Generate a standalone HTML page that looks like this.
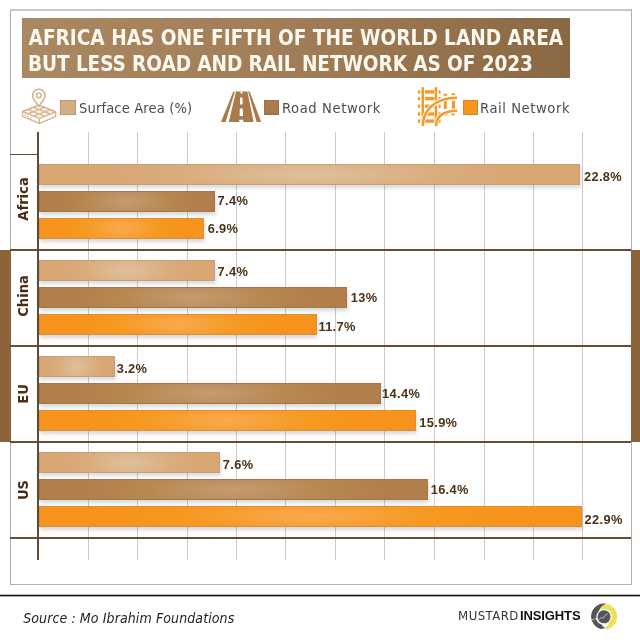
<!DOCTYPE html>
<html><head><meta charset="utf-8"><style>
*{margin:0;padding:0;box-sizing:border-box}
html,body{width:640px;height:640px;overflow:hidden;background:#fff}
body{position:relative;font-family:"Liberation Sans",Arial,sans-serif}
#frame{position:absolute;left:10px;top:9px;width:622px;height:576px;border:1px solid #b4aea7;border-top:2px solid #cdc6be}
.band{position:absolute;top:250px;height:192px;width:10.5px;background:#8c6239}
#title{position:absolute;left:22px;top:18px;width:548px;height:60px;background:linear-gradient(90deg,#aa8862 0%,#a07d57 50%,#8a6843 100%)}
#title div{position:absolute;left:6px;color:#fdf8ee;font-family:"DejaVu Sans Condensed","Liberation Sans",sans-serif;font-weight:bold;font-size:20.6px;letter-spacing:0px;white-space:nowrap;line-height:1}
.sw{position:absolute;top:100px;width:15px;height:15px;box-shadow:inset 0 0 0 1px rgba(90,70,50,0.18)}
.lt{position:absolute;top:98px;font-family:"DejaVu Sans Condensed","Liberation Sans",sans-serif;font-size:14.6px;color:#4b4b4b;white-space:nowrap;line-height:20px}
.gl{position:absolute;top:131.5px;height:428px;width:1px;background:#cbcbcf}
.sep{position:absolute;left:10px;width:621px;height:2px;background:#684d35}
#axis{position:absolute;left:37px;top:131.5px;width:2px;height:428px;background:#624b35}
.bar{position:absolute;left:39px;height:21px;box-shadow:1px 3px 4px rgba(70,66,70,0.2)}
.bar.s{background:radial-gradient(ellipse 40% 140% at 50% 50%,#dfc09d 0%,#dbad7d 60%,#d7a673 100%);border:1px solid #c6a07a}
.bar.r{background:radial-gradient(ellipse 40% 140% at 50% 50%,#c49c74 0%,#b7884f 60%,#b27f4c 100%);border:1px solid #a07750}
.bar.o{background:radial-gradient(ellipse 40% 140% at 50% 50%,#f9aa50 0%,#f7981f 60%,#f6931c 100%);border:1px solid #dc8f38}
.val{position:absolute;height:21px;line-height:21px;font-size:12.8px;font-weight:bold;color:#4a3219;white-space:nowrap;letter-spacing:0.35px}
.cl{position:absolute;left:23.3px;transform:translate(-50%,-50%) rotate(-90deg);line-height:1;font-family:"DejaVu Sans Condensed","Liberation Sans",sans-serif;font-size:14.6px;font-weight:bold;color:#4a2d12;white-space:nowrap}
#foot{position:absolute;left:0;top:594px;width:640px;height:3px;background:linear-gradient(#b8b8b8 0,#b8b8b8 1px,#161616 1px,#161616 2px,#a8a8a8 2px)}
#src{position:absolute;left:23.2px;top:608.6px;font-family:"DejaVu Sans Condensed","Liberation Sans",sans-serif;font-style:italic;font-size:14px;color:#222;white-space:nowrap;line-height:18px;letter-spacing:0.1px}
#brand{position:absolute;left:458.1px;top:607.4px;font-family:"DejaVu Sans Condensed","Liberation Sans",sans-serif;font-size:13px;color:#333;white-space:nowrap;line-height:18px;letter-spacing:0.48px}
#brand2{position:absolute;left:520px;top:607.4px;font-size:13px;font-weight:bold;color:#111;white-space:nowrap;line-height:18px;letter-spacing:-0.12px}
#ov{position:absolute;left:0;top:0}
</style></head><body>
<div id="frame"></div>
<div class="band" style="left:0"></div>
<div class="band" style="left:631px;width:9px"></div>
<div id="title"><div style="top:9.9px;left:6.6px">AFRICA HAS ONE FIFTH OF THE WORLD LAND AREA</div><div style="top:35.9px;letter-spacing:-0.09px">BUT LESS ROAD AND RAIL NETWORK AS OF 2023</div></div>
<div class="sw" style="left:60px;width:16px;background:#d4ac81"></div>
<div class="lt" style="left:79px;letter-spacing:0.13px">Surface Area (%)</div>
<div class="sw" style="left:264px;width:14.5px;background:#a97b4c"></div>
<div class="lt" style="left:282px;letter-spacing:0.6px">Road Network</div>
<div class="sw" style="left:462.5px;background:#f7941d"></div>
<div class="lt" style="left:480px;letter-spacing:0.58px">Rail Network</div>
<div class="gl" style="left:88.00px"></div><div class="gl" style="left:137.00px"></div><div class="gl" style="left:187.00px"></div><div class="gl" style="left:235.50px"></div><div class="gl" style="left:285.00px"></div><div class="gl" style="left:334.50px"></div><div class="gl" style="left:384.00px"></div><div class="gl" style="left:433.70px"></div><div class="gl" style="left:483.50px"></div><div class="gl" style="left:532.50px"></div><div class="gl" style="left:582.00px"></div>
<div class="sep" style="top:153.5px;width:28px;height:1.5px"></div>
<div class="sep" style="top:249px"></div><div class="sep" style="top:345px"></div><div class="sep" style="top:441px"></div><div class="sep" style="top:537px"></div>
<div id="axis"></div>
<div class="bar s" style="top:164px;width:540.8px"></div><div class="val" style="top:165.5px;left:584.0px">22.8%</div><div class="bar r" style="top:191px;width:175.7px"></div><div class="val" style="top:190.1px;left:217.6px">7.4%</div><div class="bar o" style="top:218px;width:164.7px"></div><div class="val" style="top:217.8px;left:207.7px">6.9%</div><div class="bar s" style="top:260px;width:175.7px"></div><div class="val" style="top:261.0px;left:217.6px">7.4%</div><div class="bar r" style="top:287px;width:308.1px"></div><div class="val" style="top:286.9px;left:350.8px">13%</div><div class="bar o" style="top:314px;width:277.5px"></div><div class="val" style="top:316.3px;left:318.4px">11.7%</div><div class="bar s" style="top:356px;width:76px"></div><div class="val" style="top:357.8px;left:116.7px">3.2%</div><div class="bar r" style="top:383px;width:341.6px"></div><div class="val" style="top:383.4px;left:382.1px">14.4%</div><div class="bar o" style="top:410px;width:376.8px"></div><div class="val" style="top:411.5px;left:419.3px">15.9%</div><div class="bar s" style="top:452px;width:180.7px"></div><div class="val" style="top:454.2px;left:222.8px">7.6%</div><div class="bar r" style="top:479px;width:389px"></div><div class="val" style="top:479.3px;left:430.7px">16.4%</div><div class="bar o" style="top:506px;width:543.2px"></div><div class="val" style="top:508.6px;left:584.6px">22.9%</div>
<div class="cl" style="top:198.5px">Africa</div><div class="cl" style="top:295.75px">China</div><div class="cl" style="top:394.25px">EU</div><div class="cl" style="top:489.6px">US</div>
<div id="foot"></div>
<div id="src">Source : Mo Ibrahim Foundations</div>
<div id="brand">MUSTARD</div><div id="brand2">INSIGHTS</div>
<svg id="ov" width="640" height="640" viewBox="0 0 640 640">

<g fill="none" stroke="#d3b28b" stroke-width="1.3" stroke-linejoin="round">
<polygon points="22.5,111.6 38.75,105.0 55.6,111.9 55.6,116.7 39.35,123.3 22.5,116.39999999999999" fill="#fff"/>
<polygon points="22.5,111.6 38.75,105.0 55.6,111.9 39.35,118.5" fill="#d8b995"/>
<line x1="39.35" y1="118.5" x2="39.35" y2="123.3"/>
<line x1="24.7" y1="114.8" x2="33.35" y2="119.10000000000001" stroke-dasharray="1.4 1.8"/>
</g>
<g fill="#fdf6ec" stroke="none"><polygon points="38.79,105.81 42.38,107.28 38.91,108.69 35.32,107.22"/><polygon points="33.37,108.01 36.96,109.48 33.50,110.89 29.90,109.42"/><polygon points="27.95,110.21 31.55,111.68 28.08,113.09 24.49,111.62"/><polygon points="44.40,108.11 48.00,109.58 44.53,110.99 40.94,109.52"/><polygon points="38.99,110.31 42.58,111.78 39.11,113.19 35.52,111.72"/><polygon points="33.57,112.51 37.16,113.98 33.70,115.39 30.10,113.92"/><polygon points="50.02,110.41 53.61,111.88 50.15,113.29 46.55,111.82"/><polygon points="44.60,112.61 48.20,114.08 44.73,115.49 41.14,114.02"/><polygon points="39.19,114.81 42.78,116.28 39.31,117.69 35.72,116.22"/></g>
<path d="M38.8,106.3 C36.5,102.5 32.6,99.6 32.6,95.4 A6.2,6.2 0 0 1 45.0,95.4 C45.0,99.6 41.1,102.5 38.8,106.3 Z" fill="#fff" stroke="#d0ae86" stroke-width="1.5" stroke-linejoin="round"/>
<circle cx="38.8" cy="95.3" r="2.4" fill="none" stroke="#d0ae86" stroke-width="1.4"/>


<g fill="#a97a4b">
<polygon points="236,91.4 247.4,91.4 253.7,122 228.8,122"/>
<polygon points="233.3,91.4 234.9,91.4 225.6,122 221,122"/>
<polygon points="248.1,91.4 249.7,91.4 261.2,122 256.6,122"/>
</g>
<g fill="#fff">
<polygon points="240.6,91.4 242.4,91.4 242.5,93.4 240.5,93.4"/>
<polygon points="240.1,97.6 242.5,97.6 242.6,104.5 240,104.5"/>
<polygon points="239.8,108.5 242.8,108.5 243,116 239.6,116"/>
<polygon points="239.3,119.8 243.3,119.8 243.4,122.2 239.2,122.2"/>
</g>

<g fill="#f39a2a"><rect x="425.0" y="90.2" width="9.2" height="3.4"/><rect x="417.9" y="90.2" width="2.2" height="3.4"/><rect x="438.6" y="90.2" width="2" height="3.4"/><rect x="425.0" y="96.89999999999999" width="9.2" height="3.4"/><rect x="417.9" y="96.89999999999999" width="2.2" height="3.4"/><rect x="438.6" y="96.89999999999999" width="2" height="3.4"/><rect x="425.0" y="104.6" width="9.2" height="3.4"/><rect x="417.9" y="104.6" width="2.2" height="3.4"/><rect x="438.6" y="104.6" width="2" height="3.4"/><rect x="425.0" y="112.3" width="9.2" height="3.4"/><rect x="417.9" y="112.3" width="2.2" height="3.4"/><rect x="438.6" y="112.3" width="2" height="3.4"/><rect x="425.0" y="119.39999999999999" width="9.2" height="3.4"/><rect x="417.9" y="119.39999999999999" width="2.2" height="3.4"/><rect x="438.6" y="119.39999999999999" width="2" height="3.4"/><rect x="421.5" y="87.2" width="2.6" height="38.6"/><rect x="434.6" y="87.2" width="2.6" height="38.6"/><rect x="443.6" y="93.8" width="3.6" height="2"/><rect x="451.6" y="93.3" width="3.6" height="2"/><rect x="443.8" y="100.8" width="3" height="8.2"/><rect x="452" y="100.8" width="3" height="8.2"/><rect x="444" y="113.6" width="3.4" height="2"/><rect x="451.4" y="113.4" width="3.4" height="2"/></g><g fill="none" stroke-linecap="butt">
<path d="M422.8,126 C422.8,110 435,98 457,97.7" stroke="#fff" stroke-width="4.2"/>
<path d="M422.8,126 C422.8,110 435,98 457,97.7" stroke="#f39a2a" stroke-width="2.6"/>
<path d="M436,126 C436,117 443,110.7 457,110.7" stroke="#fff" stroke-width="4.2"/>
<path d="M436,126 C436,117 443,110.7 457,110.7" stroke="#f39a2a" stroke-width="2.6"/>
</g>

<g>
<path d="M598.29,609.04 L598.85,608.23 L599.51,607.47 L600.27,606.77 L601.12,606.12 L602.05,605.56 L603.07,605.08 L604.16,604.69 L605.31,604.41 L606.51,604.24 L607.76,604.20 L608.91,604.59 L610.02,605.09 L611.07,605.68 L612.07,606.38 L613.00,607.17 L613.85,608.04 L614.61,608.98 L615.28,609.99 L615.85,611.07 L616.32,612.19 L616.68,613.35 L616.93,614.54 L617.07,615.75 L617.09,616.96 L617.00,618.17 L616.80,619.37 L616.48,620.54 L616.06,621.68 L615.53,622.78 L614.89,623.81 L614.17,624.79 L613.35,625.69 L612.46,626.51 L611.49,627.24 L610.45,627.88 L609.36,628.42 L608.21,628.78 L607.02,629.03 L605.83,629.17 L604.64,629.19 L604.60,628.19 L605.61,627.43 L606.47,626.58 L607.18,625.67 L607.75,624.73 L608.17,623.76 L608.44,622.79 L609.00,622.36 L609.52,621.88 L610.00,621.36 L610.42,620.79 L610.78,620.19 L611.09,619.55 L611.34,618.89 L611.53,618.21 L611.64,617.51 L611.70,616.81 L611.68,616.10 L611.60,615.40 L611.46,614.71 L611.25,614.03 L610.98,613.38 L610.64,612.76 L610.25,612.17 L609.81,611.62 L609.31,611.11 L608.78,610.66 L608.20,610.25 L607.58,609.91 L606.94,609.62 L606.27,609.39 L605.58,609.23 L604.88,609.13 L604.17,609.10 L603.47,609.14 L602.77,609.24 L602.07,609.36 L601.37,609.53 L600.69,609.77 L600.03,610.08 L599.40,610.45 Z" fill="#ebe254"/>
<path d="M591.44,619.55 L591.31,618.93 L591.21,618.31 L591.14,617.68 L591.11,617.06 L591.10,616.43 L591.12,615.80 L591.18,615.17 L591.26,614.55 L591.37,613.93 L591.52,613.32 L591.69,612.72 L591.89,612.12 L592.12,611.53 L592.38,610.96 L592.66,610.40 L592.97,609.85 L593.31,609.32 L593.67,608.81 L594.06,608.31 L594.46,607.83 L594.90,607.38 L595.35,606.94 L595.82,606.53 L596.32,606.14 L596.83,605.77 L597.36,605.43 L597.90,605.11 L598.46,604.83 L599.03,604.56 L599.61,604.33 L600.21,604.12 L600.81,603.95 L601.42,603.80 L602.04,603.68 L602.66,603.59 L603.29,603.53 L603.91,603.50 L604.54,603.50 L605.17,603.54 L605.80,603.60 L605.74,604.09 L605.11,604.31 L604.52,604.56 L603.94,604.84 L603.40,605.14 L602.88,605.47 L602.40,605.82 L601.94,606.19 L601.51,606.58 L601.12,606.98 L600.76,607.40 L600.43,607.83 L600.14,608.27 L599.88,608.72 L599.65,609.17 L599.45,609.63 L599.29,610.09 L599.16,610.54 L599.07,611.00 L598.80,611.25 L598.55,611.51 L598.31,611.79 L598.09,612.08 L597.88,612.38 L597.69,612.69 L597.51,613.00 L597.34,613.33 L597.19,613.66 L597.06,614.00 L596.94,614.35 L596.84,614.70 L596.76,615.05 L596.69,615.41 L596.65,615.77 L596.61,616.14 L596.60,616.50 L596.60,616.87 L596.63,617.23 L596.67,617.59 L596.23,618.04 L595.82,618.53 Z" fill="#55565b"/>
<path d="M604.60,628.19 L604.22,628.33 L603.82,628.45 L603.41,628.56 L603.00,628.66 L602.57,628.74 L602.15,628.81 L601.71,628.86 L601.27,628.90 L600.82,628.92 L600.37,628.92 L599.96,628.78 L599.56,628.64 L599.15,628.47 L598.76,628.30 L598.37,628.11 L597.99,627.90 L597.61,627.69 L597.24,627.46 L596.88,627.22 L596.53,626.97 L596.18,626.71 L595.85,626.43 L595.52,626.15 L595.21,625.85 L594.90,625.54 L594.61,625.22 L594.32,624.90 L594.05,624.56 L593.79,624.21 L593.54,623.86 L593.30,623.50 L593.07,623.13 L592.86,622.75 L592.66,622.37 L592.47,621.98 L592.30,621.58 L592.07,621.20 L591.85,620.82 L591.64,620.42 L591.45,620.02 L595.31,618.98 L595.59,619.22 L595.87,619.44 L596.16,619.65 L596.45,619.84 L596.56,620.10 L596.69,620.35 L596.82,620.60 L596.95,620.85 L597.10,621.09 L597.26,621.33 L597.42,621.56 L597.59,621.78 L597.77,622.00 L597.95,622.22 L598.14,622.42 L598.34,622.62 L598.55,622.82 L598.76,623.00 L598.98,623.18 L599.20,623.35 L599.43,623.52 L599.67,623.67 L599.91,623.82 L600.15,623.96 L600.40,624.09 L600.66,624.22 L600.91,624.33 L601.18,624.44 L601.44,624.53 L601.71,624.62 L601.91,624.95 L602.13,625.28 L602.37,625.60 L602.63,625.91 L602.91,626.21 L603.21,626.51 L603.53,626.80 L603.86,627.07 L604.21,627.34 L604.58,627.59 Z" fill="#55565b"/>
<circle cx="604.0" cy="616.8" r="7.6" fill="#f3f3f3"/>
<circle cx="604.0" cy="616.8" r="6.5" fill="#55565b"/>
<path d="M599,619.6 L601.4,617.2 L602.9,618.4 L605.6,614.9 L607.8,613.9" fill="none" stroke="#c4c4c4" stroke-width="0.9"/>
</g>
</svg>
</body></html>
